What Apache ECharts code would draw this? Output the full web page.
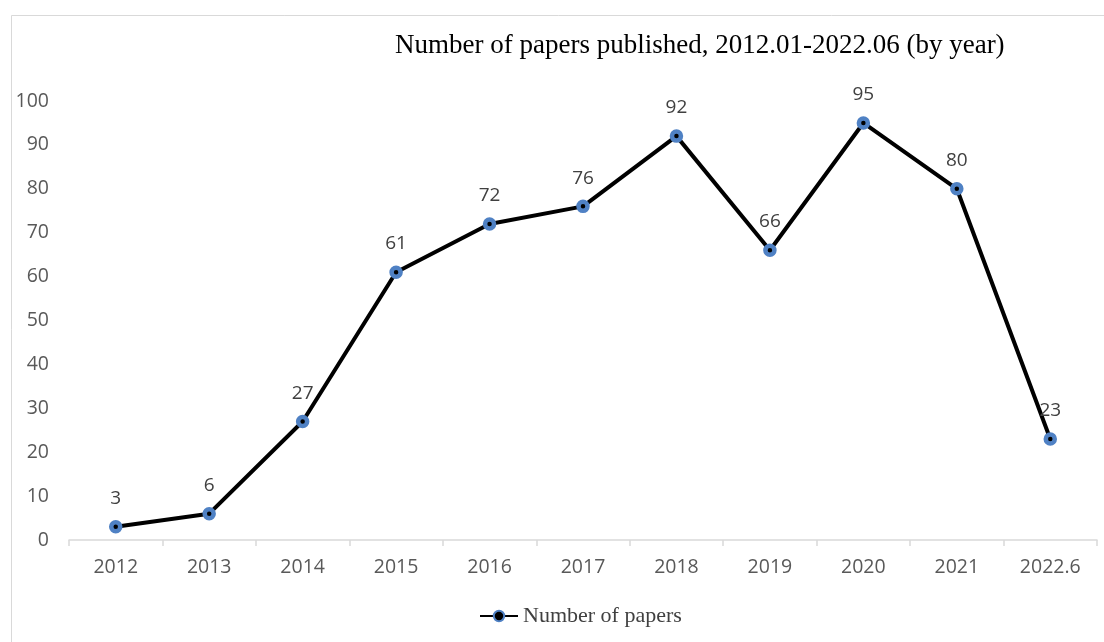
<!DOCTYPE html>
<html lang="en">
<head>
  <meta charset="UTF-8">
  <title>Number of papers</title>
  <script src="https://cdn.jsdelivr.net/npm/echarts@6/dist/echarts.min.js"></script>
  <style>
    html, body { margin: 0; padding: 0; background: #fff; }
  </style>
</head>
<body>
  <div id="chart" style="width: 1104px;height: 642px;"></div>

  <script type="text/javascript">
    const years = ['2012', '2013', '2014', '2015', '2016', '2017', '2018', '2019', '2020', '2021', '2022.6'];
    const papers = [3, 6, 27, 61, 72, 76, 92, 66, 95, 80, 23];
    const seriesName = 'Number of papers';
    const titleText = 'Number of papers published, 2012.01-2022.06 (by year)';

    const sans = '"Open Sans", "Noto Sans", sans-serif';
    const serif = '"Liberation Serif", "DejaVu Serif", serif';

    const myChart = echarts.init(document.getElementById('chart'));

    const option = {
      animation: false,
      backgroundColor: '#fff',
      graphic: [{
        type: 'rect',
        shape: { x: 11.5, y: 15.5, width: 1110, height: 650 },
        style: { fill: 'none', stroke: '#d9d9d9', lineWidth: 1 },
        silent: true,
      }],
      title: {
        text: titleText,
        left: 390,
        top: 27,
        textStyle: { fontFamily: serif, fontSize: 27, fontWeight: 'normal', color: '#000' },
      },
      grid: { left: 69, right: 7, top: 101, bottom: 102 },
      legend: {
        data: [seriesName],
        left: 474,
        top: 600,
        itemWidth: 38,
        itemHeight: 13,
        itemGap: 4,
        textStyle: { fontFamily: serif, fontSize: 22, color: '#404040' },
      },
      xAxis: {
        type: 'category',
        data: years,
        boundaryGap: true,
        axisLine: { lineStyle: { color: '#d9d9d9', width: 1.5 } },
        axisTick: { show: true, length: 6, lineStyle: { color: '#d9d9d9', width: 1.5 } },
        axisLabel: { margin: 17, fontFamily: sans, fontSize: 19.5, color: '#595959' },
      },
      yAxis: {
        type: 'value',
        min: 0,
        max: 100,
        interval: 10,
        splitLine: { show: false },
        axisLine: { show: false },
        axisTick: { show: false },
        axisLabel: { margin: 20, fontFamily: sans, fontSize: 19.5, color: '#595959' },
      },
      series: [{
        name: seriesName,
        type: 'line',
        data: papers,
        symbol: 'circle',
        symbolSize: 9,
        lineStyle: { color: '#000', width: 4 },
        itemStyle: { color: '#000', borderColor: '#4f81c4', borderWidth: 4.5 },
        label: {
          show: true,
          position: 'top',
          distance: 12,
          fontFamily: sans,
          fontSize: 19,
          color: '#404040',
        },
      }],
    };
    myChart.setOption(option);
  </script>
</body>
</html>
